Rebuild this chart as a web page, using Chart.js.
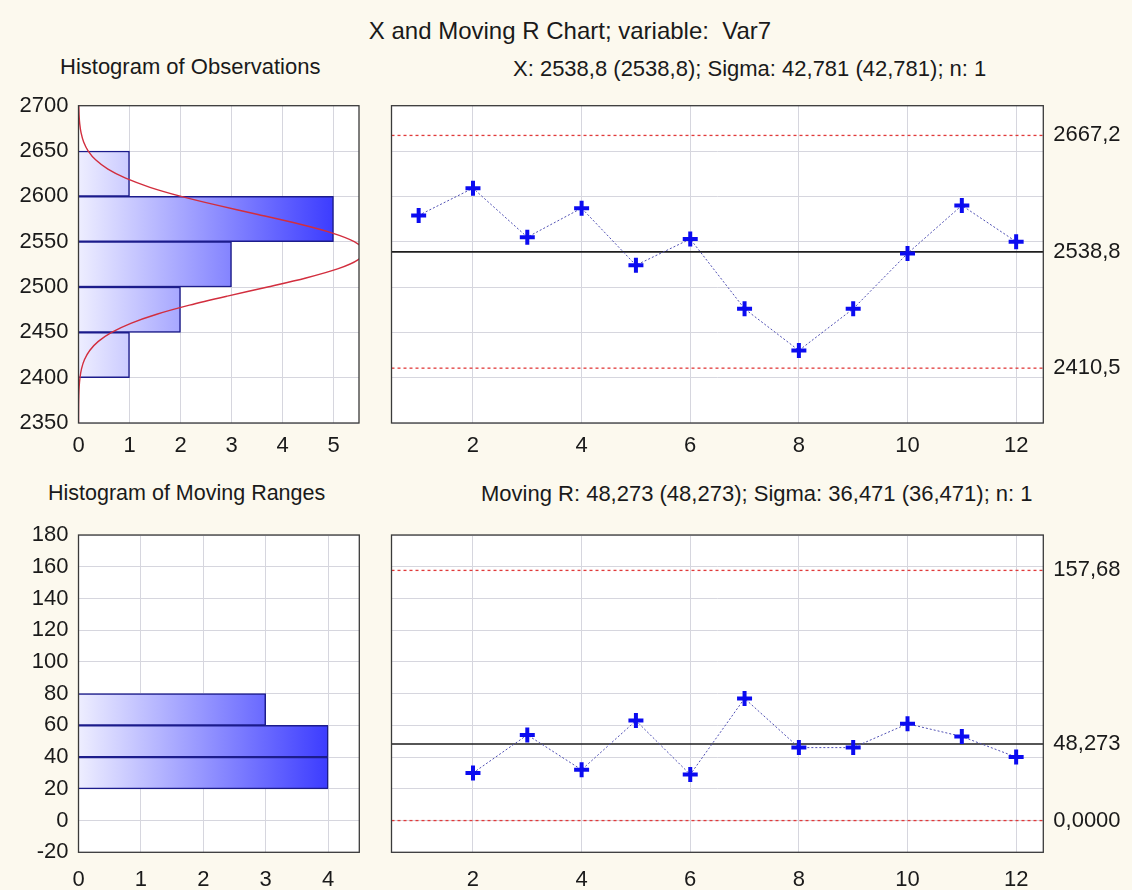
<!DOCTYPE html>
<html><head><meta charset="utf-8">
<script src="https://cdn.jsdelivr.net/npm/chart.js@4.4.1/dist/chart.umd.min.js"></script>
<style>
html,body{margin:0;padding:0;background:#FCF9EE;}
#wrap{position:relative;width:1132px;height:890px;background:#FCF9EE;overflow:hidden;font-family:"Liberation Sans",Arial,sans-serif;color:#1a1a1a;}
.t{position:absolute;white-space:nowrap;line-height:1;}
canvas{position:absolute;}
</style></head><body>
<div id="wrap">
<div class="t" style="left:0;width:1140px;text-align:center;top:19px;font-size:24px">X and Moving R Chart; variable:&nbsp; Var7</div>
<div class="t" style="left:60px;top:56px;font-size:22px">Histogram of Observations</div>
<div class="t" style="left:513px;top:58px;font-size:22px">X: 2538,8 (2538,8); Sigma: 42,781 (42,781); n: 1</div>
<div class="t" style="left:48px;top:483px;font-size:21.5px">Histogram of Moving Ranges</div>
<div class="t" style="left:481px;top:483px;font-size:22px">Moving R: 48,273 (48,273); Sigma: 36,471 (36,471); n: 1</div>
<canvas id="cA" width="380" height="370" style="left:0;top:90px;width:380px;height:370px"></canvas>
<canvas id="cB" width="752" height="370" style="left:380px;top:90px;width:752px;height:370px"></canvas>
<canvas id="cC" width="380" height="430" style="left:0;top:460px;width:380px;height:430px"></canvas>
<canvas id="cD" width="752" height="430" style="left:380px;top:460px;width:752px;height:430px"></canvas>
</div>
<script>
// ---- data ----
const sampleNumbers = [1,2,3,4,5,6,7,8,9,10,11,12];
const observations = [2579,2609,2555,2587,2524,2553,2476,2430,2476,2537,2590,2550];
const mrSampleNumbers = [2,3,4,5,6,7,8,9,10,11,12];
const movingRanges = [30,54,32,63,29,77,46,46,61,53,40];

const obsBinCenters = [2425,2475,2525,2575,2625];
const obsBinCounts = [1,2,3,5,1];
const mrBinCenters = [30,50,70];
const mrBinCounts = [4,4,3];

const normalCurveLevels = [2350,2360,2370,2380,2390,2400,2410,2420,2430,2440,2450,2460,2470,2480,2490,2500,2510,2520,2530,2540,2550,2560,2570,2580,2590,2600,2610,2620,2630,2640,2650,2660,2670,2680,2690,2700];
const normalCurveCounts = [0.0003,0.0009,0.0023,0.0057,0.013,0.029,0.060,0.118,0.220,0.389,0.649,1.026,1.535,2.176,2.919,3.709,4.460,5.080,5.478,5.593,5.407,4.949,4.289,3.519,2.734,2.011,1.401,0.924,0.577,0.341,0.191,0.101,0.051,0.024,0.011,0.005];

const xUCL = 2667.2, xCL = 2538.8, xLCL = 2410.5;
const mrUCL = 157.68, mrCL = 48.273, mrLCL = 0;
const xLimitValues = [xLCL, xCL, xUCL];
const xLimitLabels = ['2410,5','2538,8','2667,2'];
const mrLimitValues = [mrLCL, mrCL, mrUCL];
const mrLimitLabels = ['0,0000','48,273','157,68'];

const obsTicks = [2350,2400,2450,2500,2550,2600,2650,2700];
const mrTicks = [-20,0,20,40,60,80,100,120,140,160,180];
const histCountTicksTop = [0,1,2,3,4,5];
const histCountTicksBottom = [0,1,2,3,4];
const sampleTicks = [2,4,6,8,10,12];
const sampleRange = [0.5,12.5];

// ---- styles ----
const FONT = {family:'"Liberation Sans", Arial, sans-serif', size:22};
const TXT = '#1a1a1a';
const GRID = '#D6D6DE';
Chart.defaults.font.family = FONT.family;
Chart.defaults.font.size = 22;
Chart.defaults.color = TXT;

const framePlugin = {
  id:'frame',
  beforeDraw(chart){
    const {ctx, chartArea:a} = chart;
    ctx.save(); ctx.fillStyle = '#ffffff';
    ctx.fillRect(a.left, a.top, a.right-a.left, a.bottom-a.top); ctx.restore();
  },
  afterDraw(chart){
    const {ctx, chartArea:a} = chart;
    ctx.save(); ctx.strokeStyle = '#3a3a3a'; ctx.lineWidth = 1.3;
    ctx.strokeRect(a.left, a.top, a.right-a.left, a.bottom-a.top); ctx.restore();
  }
};

function setTicks(list){ return s => { s.ticks = list.map(v => ({value:v})); }; }
function fixW(w){ return s => { s.width = w; s.paddingTop = 0; s.paddingBottom = 0; }; }
function fixH(h){ return s => { s.height = h; s.paddingLeft = 0; s.paddingRight = 0; }; }

function gradientFill(maxCount){
  return ctx => {
    const chart = ctx.chart;
    if (!chart.chartArea) return '#8080ff';
    const xs = chart.scales.x;
    const g = chart.ctx.createLinearGradient(xs.getPixelForValue(0),0,xs.getPixelForValue(maxCount),0);
    g.addColorStop(0,'#EEEEFF');
    g.addColorStop(1,'#3C3CFF');
    return g;
  };
}

function histChart(id, centers, counts, yMin, yMax, yTicks, xMax, xTicks, padTop, padRight, xH, xPad, curve){
  const datasets = [];
  if (curve) {
    datasets.push({
      type:'line', data: curve.levels.map((v,i)=>({x:curve.counts[i], y:v})),
      borderColor:'#D22E3E', borderWidth:1.4, pointRadius:0, tension:0.3, fill:false, order:0
    });
  }
  datasets.push({
    type:'bar', data: centers.map((c,i)=>({x:counts[i], y:c})),
    backgroundColor: gradientFill(Math.max(...counts)),
    borderColor:'#1C1C8C', borderWidth:1.5,
    barPercentage:1, categoryPercentage:1, order:1
  });
  return new Chart(document.getElementById(id), {
    type:'bar',
    data:{datasets},
    options:{
      indexAxis:'y', responsive:false, animation:false,
      layout:{padding:{top:padTop, right:padRight, left:0, bottom:0}},
      plugins:{legend:{display:false}, tooltip:{enabled:false}},
      scales:{
        x:{type:'linear', min:0, max:xMax, offset:false, afterBuildTicks:setTicks(xTicks), afterFit:fixH(xH),
           grid:{color:GRID, drawTicks:false, offset:false}, border:{display:false},
           ticks:{padding:xPad, color:TXT, callback:v=>String(v), autoSkip:false, maxRotation:0}},
        y:{type:'linear', min:yMin, max:yMax, offset:false, afterBuildTicks:setTicks(yTicks), afterFit:fixW(78.5),
           grid:{color:GRID, drawTicks:false, offset:false}, border:{display:false},
           ticks:{padding:10, color:TXT, callback:v=>String(v), autoSkip:false}}
      }
    },
    plugins:[framePlugin]
  });
}

function controlChart(id, xs, ys, yMin, yMax, yTicks, limits, limitLabels, padTop, xH, xPad){
  const [lcl, cl, ucl] = limits;
  const hline = (v, color, w, dash) => ({
    data:[{x:sampleRange[0], y:v},{x:sampleRange[1], y:v}], showLine:true,
    borderColor:color, borderWidth:w, borderDash:dash, pointRadius:0, fill:false
  });
  return new Chart(document.getElementById(id), {
    type:'scatter',
    data:{datasets:[
      {data: xs.map((x,i)=>({x, y:ys[i]})), showLine:true,
       borderColor:'#5050B4', borderWidth:1, borderDash:[2,2],
       pointStyle:'cross', pointRadius:7.5, pointBorderWidth:4,
       pointBorderColor:'#0B0BF0', pointBackgroundColor:'#0B0BF0', order:0},
      Object.assign(hline(cl,'#1e1e1e',1.6,[]), {order:1}),
      Object.assign(hline(ucl,'#E03A3A',1.3,[3,3]), {order:2}),
      Object.assign(hline(lcl,'#E03A3A',1.3,[3,3]), {order:3})
    ]},
    options:{
      responsive:false, animation:false,
      layout:{padding:{top:padTop, right:0, left:0, bottom:0}},
      plugins:{legend:{display:false}, tooltip:{enabled:false}},
      scales:{
        x:{type:'linear', min:sampleRange[0], max:sampleRange[1], afterBuildTicks:setTicks(sampleTicks), afterFit:fixH(xH),
           grid:{color:GRID, drawTicks:false}, border:{display:false},
           ticks:{padding:xPad, color:TXT, callback:v=>String(v), autoSkip:false, maxRotation:0}},
        y:{type:'linear', position:'left', min:yMin, max:yMax, afterBuildTicks:setTicks(yTicks), afterFit:fixW(4.8),
           grid:{color:GRID, drawTicks:false}, border:{display:false},
           ticks:{display:false}},
        y2:{type:'linear', position:'right', min:yMin, max:yMax, afterBuildTicks:setTicks(limits), afterFit:fixW(88.7),
           grid:{display:false, drawTicks:false}, border:{display:false},
           ticks:{padding:10, color:TXT, autoSkip:false, callback:(v,i)=>limitLabels[i]}}
      }
    },
    plugins:[framePlugin]
  });
}

histChart('cA', obsBinCenters, obsBinCounts, 2350, 2700, obsTicks, 5.5, histCountTicksTop, 15.7, 21, 37, 10,
          {levels:normalCurveLevels, counts:normalCurveCounts});
controlChart('cB', sampleNumbers, observations, 2350, 2700, obsTicks, xLimitValues, xLimitLabels, 15.7, 37, 10);
histChart('cC', mrBinCenters, mrBinCounts, -20, 180, mrTicks, 4.5, histCountTicksBottom, 75, 20.7, 37.7, 14, null);
controlChart('cD', mrSampleNumbers, movingRanges, -20, 180, mrTicks, mrLimitValues, mrLimitLabels, 75, 37.7, 14);
</script>
</body></html>
